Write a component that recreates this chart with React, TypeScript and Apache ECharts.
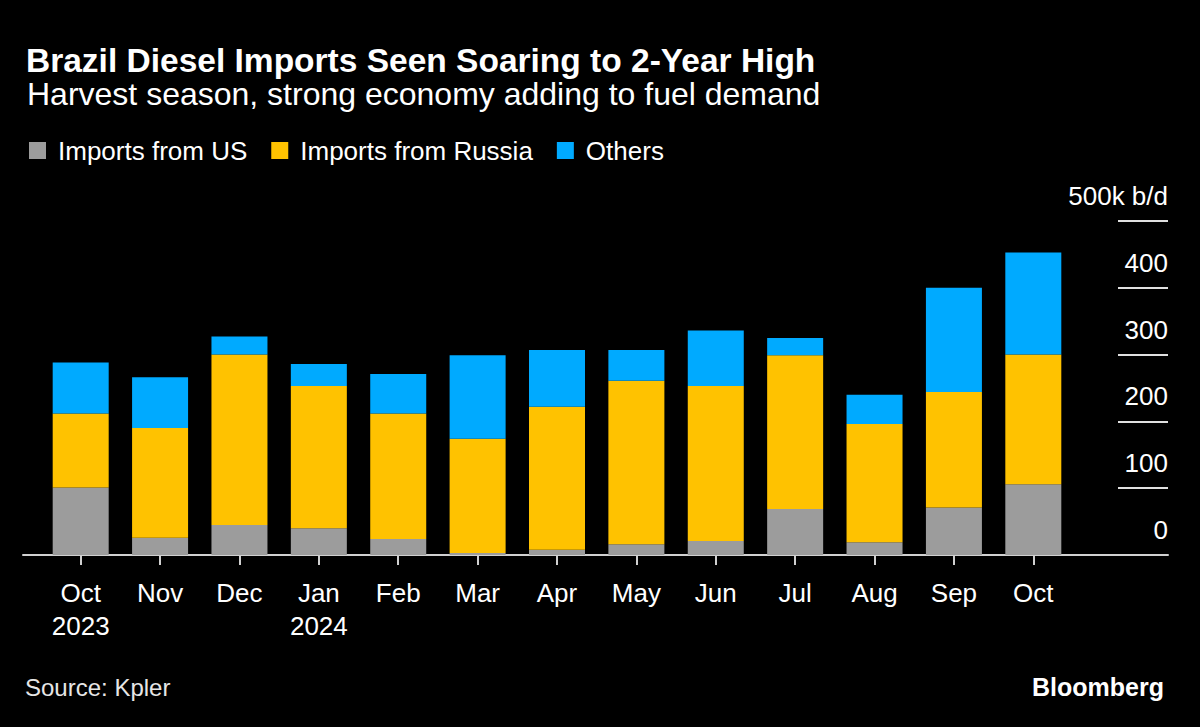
import React, { useEffect, useRef } from "react";
import * as echarts from "echarts";

const categories = ["Oct\n2023", "Nov", "Dec", "Jan\n2024", "Feb", "Mar", "Apr", "May", "Jun", "Jul", "Aug", "Sep", "Oct"];
const usImports = [101, 26, 45, 40, 24, 3, 8, 16, 21, 69, 19, 71, 106];
const russiaImports = [111, 164, 255, 213, 188, 171, 214, 245, 232, 230, 177, 173, 194];
const otherImports = [76, 76, 27, 33, 59, 125, 85, 46, 83, 26, 44, 156, 153];
const seriesNames = ["Imports from US", "Imports from Russia", "Others"];
const yUnitLabel = "500k b/d";

const FONT = "'Liberation Sans', Arial, sans-serif";

export default function App() {
  const ref = useRef<HTMLDivElement>(null);
  useEffect(() => {
    if (!ref.current) return;
    const chart = echarts.init(ref.current, null, { renderer: "svg" });
    const top = 221;
    const height = 334;
    chart.setOption({
      animation: false,
      backgroundColor: "#000000",
      textStyle: { fontFamily: FONT },
      title: [
        {
          text: "Brazil Diesel Imports Seen Soaring to 2-Year High",
          left: 21,
          top: 35,
          textStyle: { color: "#ffffff", fontSize: 33.5, fontWeight: "bold", fontFamily: FONT, lineHeight: 40 },
        },
        {
          text: "Harvest season, strong economy adding to fuel demand",
          left: 22,
          top: 70,
          textStyle: { color: "#ffffff", fontSize: 32, fontWeight: "normal", fontFamily: FONT, lineHeight: 38 },
        },
        {
          text: "Source: Kpler",
          left: 20,
          top: 670,
          textStyle: { color: "#e6e6e6", fontSize: 24, fontWeight: "normal", fontFamily: FONT },
        },
        {
          text: "Bloomberg",
          right: 31,
          top: 669,
          textStyle: { color: "#ffffff", fontSize: 25, fontWeight: "bold", fontFamily: FONT },
        },
      ],
      legend: {
        left: 29,
        top: 137.5,
        icon: "rect",
        itemWidth: 17,
        itemHeight: 17,
        itemGap: 24,
        padding: 0,
        selectedMode: false,
        data: seriesNames,
        textStyle: { color: "#ffffff", fontSize: 26, lineHeight: 26, fontFamily: FONT, padding: [0, 0, 0, 7] },
      },
      grid: [
        { left: 41, width: 1032, top, height },
        { left: 1118, width: 50, top, height },
        { left: 23, width: 1145, top, height },
      ],
      xAxis: [
        {
          type: "category",
          gridIndex: 0,
          data: categories,
          axisLine: { show: false },
          axisTick: { show: true, alignWithLabel: true, length: 10, lineStyle: { color: "#d0d0d0", width: 2 } },
          axisLabel: { color: "#ffffff", fontSize: 26, lineHeight: 33, margin: 21, fontFamily: FONT },
        },
        { type: "value", gridIndex: 1, min: 0, max: 1, show: false },
        {
          type: "value",
          gridIndex: 2,
          min: 0,
          max: 1,
          axisLine: { show: true, lineStyle: { color: "#d0d0d0", width: 2 } },
          axisTick: { show: false },
          axisLabel: { show: false },
          splitLine: { show: false },
        },
      ],
      yAxis: [
        { type: "value", gridIndex: 0, min: 0, max: 500, interval: 100, show: false },
        {
          type: "value",
          gridIndex: 1,
          position: "right",
          min: 0,
          max: 500,
          interval: 100,
          axisLine: { show: false },
          axisTick: { show: false },
          splitLine: { show: true, lineStyle: { color: "#e0e0e0", width: 2 } },
          axisLabel: {
            inside: true,
            align: "right",
            verticalAlign: "bottom",
            margin: 0,
            padding: [0, 0, 12, 0],
            color: "#ffffff",
            fontSize: 26,
            fontFamily: FONT,
            formatter: (v: number) => (v === 500 ? yUnitLabel : String(v)),
          },
        },
        { type: "value", gridIndex: 2, min: 0, max: 1, show: false },
      ],
      series: [
        { name: seriesNames[0], type: "bar", stack: "total", xAxisIndex: 0, yAxisIndex: 0, barWidth: 56, data: usImports, itemStyle: { color: "#9c9c9c" } },
        { name: seriesNames[1], type: "bar", stack: "total", xAxisIndex: 0, yAxisIndex: 0, barWidth: 56, data: russiaImports, itemStyle: { color: "#ffc200" } },
        { name: seriesNames[2], type: "bar", stack: "total", xAxisIndex: 0, yAxisIndex: 0, barWidth: 56, data: otherImports, itemStyle: { color: "#00aaff" } },
      ],
    });
    return () => chart.dispose();
  }, []);
  return <div ref={ref} style={{ position: "fixed", left: 0, top: 0, width: 1200, height: 727 }} />;
}
